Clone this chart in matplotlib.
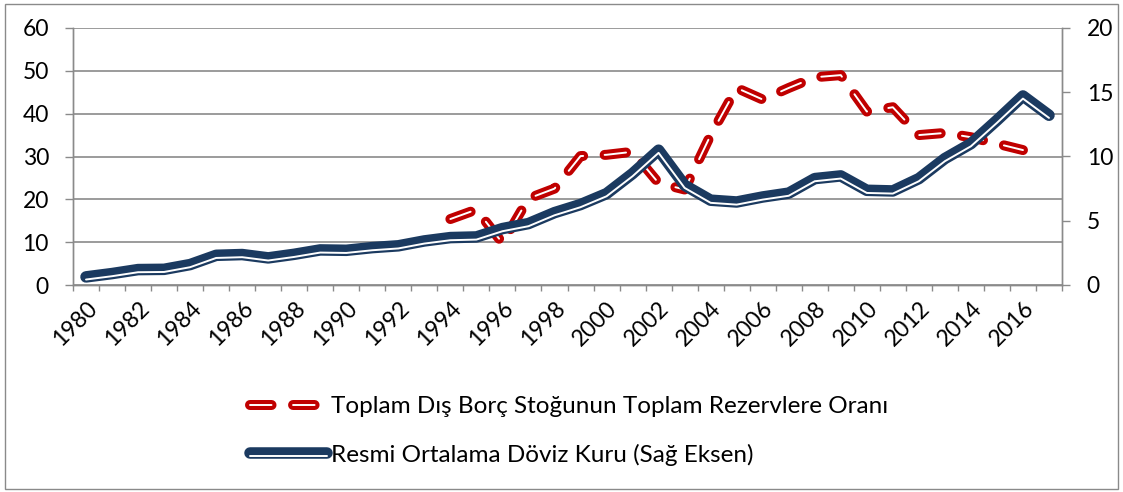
import numpy as np
import matplotlib
matplotlib.use('Agg')
import matplotlib.pyplot as plt
import matplotlib.patheffects as pe
from matplotlib.patches import Rectangle

plt.rcParams['font.family'] = ['Lato', 'DejaVu Sans']
plt.rcParams['lines.scale_dashes'] = False

# Data
years = list(range(1980, 2018))
year_labels = [str(y) for y in years[::2]]

# Toplam dis borc stogu / toplam rezervler (left axis), only 1994-2016
borc_rezerv = [np.nan] * 14 + [15.4, 17.6, 9.8, 20.2, 22.5, 30.1, 30.4, 31.1, 23.8, 22.3,
                               35.0, 46.0, 43.3, 46.0, 48.5, 49.0, 40.5, 41.5, 35.0, 35.5,
                               34.5, 33.0, 31.5] + [np.nan]

# Resmi ortalama doviz kuru (right axis)
doviz_kuru = [0.63, 0.89, 1.20, 1.22, 1.59, 2.31, 2.37, 2.11, 2.39, 2.73,
              2.70, 2.91, 3.05, 3.43, 3.69, 3.74, 4.39, 4.78, 5.63, 6.26,
              7.11, 8.67, 10.49, 7.76, 6.60, 6.46, 6.85, 7.15, 8.28, 8.49,
              7.37, 7.32, 8.28, 9.84, 11.00, 12.82, 14.71, 13.21]

label_red = 'Toplam Dış Borç Stoğunun Toplam Rezervlere Oranı'
label_blue = 'Resmi Ortalama Döviz Kuru (Sağ Eksen)'

RED = '#C00000'
NAVY = '#1B3A60'
GRAY = '#8A8A8A'
FS = 16.5
FS_LEG = 17.5

W, H = 1123, 492
fig = plt.figure(figsize=(W / 100, H / 100), dpi=100)
fig.patches.append(Rectangle((5 / W, 3 / H), 1113 / W, 485 / H, transform=fig.transFigure,
                             fill=False, edgecolor=GRAY, linewidth=1.0))

ax = fig.add_axes([73 / W, 1 - 285 / H, (1062 - 73) / W, (285 - 28) / H])
ax2 = ax.twinx()

x = np.arange(len(years))

line_red, = ax.plot(x, borc_rezerv, color=RED, lw=7.2, dashes=(15.5, 15.5),
                    dash_capstyle='round', dash_joinstyle='round', label=label_red)
line_red.set_path_effects([pe.Normal(), pe.Stroke(linewidth=1.4, foreground='white')])

line_blue, = ax2.plot(x, doviz_kuru, color=NAVY, lw=8.3, solid_capstyle='round',
                      solid_joinstyle='round', label=label_blue)
line_blue.set_path_effects([pe.Normal(),
                            pe.Stroke(linewidth=1.4, foreground='white', offset=(0, -1.9))])

ax.set_xlim(-0.5, len(years) - 0.5)
ax.set_ylim(0, 60)
ax2.set_ylim(0, 20)
ax.set_yticks(range(0, 61, 10))
ax2.set_yticks(range(0, 21, 5))

# category boundary ticks, labels on every second year
ax.set_xticks(np.arange(-0.5, len(years), 1.0))
ax.set_xticklabels([])
ax.set_xticks(x[::2], minor=True)
ax.set_xticklabels(year_labels, minor=True, rotation=45, ha='right', va='top',
                   rotation_mode='anchor', fontsize=FS)
ax.tick_params(axis='x', which='major', length=4.3, width=1.0, color=GRAY, direction='out')
ax.tick_params(axis='x', which='minor', length=0, pad=9)

ax.tick_params(axis='y', length=5.8, width=1.0, color=GRAY, pad=11.5, labelsize=FS)
ax2.tick_params(axis='y', length=5.8, width=1.0, color=GRAY, pad=12, labelsize=FS)

ax.grid(axis='y', color=GRAY, linewidth=1.2)
ax.set_axisbelow(True)

for a in (ax, ax2):
    a.spines['top'].set_visible(False)
    for s in ('left', 'right', 'bottom'):
        a.spines[s].set_color(GRAY)
        a.spines[s].set_linewidth(1.0)

fig.legend(handles=[line_red, line_blue], loc='center left',
           bbox_to_anchor=(250 / W, 1 - 431 / H), frameon=False, fontsize=FS_LEG,
           handlelength=3.15, handletextpad=0.2, labelspacing=1.1, borderpad=0,
           borderaxespad=0)

fig.savefig('out.png', dpi=100)
